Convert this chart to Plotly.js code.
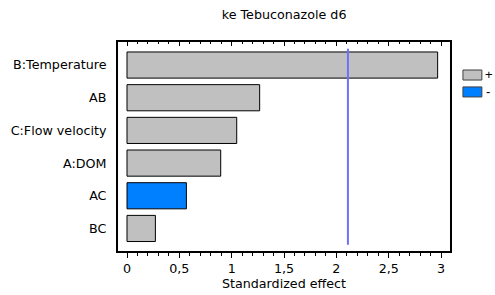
<!DOCTYPE html>
<html>
<head>
<meta charset="utf-8">
<script src="https://cdn.plot.ly/plotly-3.0.1.min.js"></script>
<style>html,body{margin:0;padding:0;background:#fff;}#chart{width:495px;height:295px;}</style>
</head>
<body>
<div id="chart"></div>
<script>
// Data (bottom to top)
const factors = ["BC", "AC", "A:DOM", "C:Flow velocity", "AB", "B:Temperature"];
const effects = [0.271, 0.567, 0.895, 1.048, 1.267, 2.967];
const signs   = ["+", "-", "+", "+", "+", "+"];
const critical = 2.11;
const xTickVals = [0, 0.5, 1, 1.5, 2, 2.5, 3];
const legendLabels = ["+", "-"];

const colPos = "#C0C0C0", colNeg = "#0080FF";

const posVals = effects.map((v, i) => signs[i] === "+" ? v : null);
const negVals = effects.map((v, i) => signs[i] === "-" ? v : null);

const barStyle = c => ({color: c, line: {color: "#000", width: 1}});
const traces = [
  {type: "bar", orientation: "h", y: factors, x: posVals, marker: barStyle(colPos), width: 0.8, name: "+", showlegend: false, hoverinfo: "none"},
  {type: "bar", orientation: "h", y: factors, x: negVals, marker: barStyle(colNeg), width: 0.8, name: "-", showlegend: false, hoverinfo: "none"},
  {type: "scatter", x: [null], y: [null], xaxis: "x2", showlegend: false, hoverinfo: "none"}
];

const fnt = {family: "DejaVu Sans", size: 12.7, color: "#000"};
const legFnt = {family: "Liberation Sans, Arial, sans-serif", size: 13, color: "#000"};
const xr = [-0.086, 3.085];

const layout = {
  width: 495, height: 295,
  margin: {l: 118, r: 45, t: 42, b: 44},
  paper_bgcolor: "#fff", plot_bgcolor: "#fff",
  separators: ",.",
  barmode: "overlay",
  font: fnt,
  showlegend: false,
  title: {text: "ke Tebuconazole d6", font: fnt, x: 0.574, xanchor: "center", y: 0.952, yanchor: "middle"},
  xaxis: {
    range: xr, tickvals: xTickVals, ticks: "outside", ticklen: 5, tickwidth: 1, tickcolor: "#000",
    minor: {dtick: 0.1, tick0: 0, ticks: "outside", ticklen: 3, tickcolor: "#000", showgrid: false},
    showgrid: false, zeroline: false, showline: true, linecolor: "#000", linewidth: 2, mirror: true,
    tickfont: fnt,
    title: {text: "Standardized effect", font: fnt, standoff: 3}
  },
  xaxis2: {
    overlaying: "x", side: "top", range: xr, tickvals: xTickVals, ticks: "inside", ticklen: 4, tickcolor: "#000",
    minor: {dtick: 0.1, tick0: 0, ticks: "inside", ticklen: 2, tickcolor: "#000", showgrid: false},
    showticklabels: false, showgrid: false, zeroline: false, showline: false
  },
  yaxis: {
    type: "category", categoryorder: "array", categoryarray: factors,
    range: [-0.69, 5.705], ticks: "", ticklabelstandoff: 7,
    showgrid: false, zeroline: false, showline: true, linecolor: "#000", linewidth: 2, mirror: true,
    tickfont: fnt
  },
  shapes: [
    {type: "line", xref: "x", yref: "y", x0: critical, x1: critical, y0: -0.5, y1: 5.5, line: {color: "#7070FF", width: 2}},
    {type: "rect", xref: "paper", yref: "paper", x0: 1.039, x1: 1.096, y0: 0.866, y1: 0.818, fillcolor: colPos, line: {color: "#404040", width: 1}},
    {type: "rect", xref: "paper", yref: "paper", x0: 1.039, x1: 1.096, y0: 0.785, y1: 0.737, fillcolor: colNeg, line: {color: "#404040", width: 1}}
  ],
  annotations: [
    {xref: "paper", yref: "paper", x: 1.1, y: 0.845, text: legendLabels[0], showarrow: false, xanchor: "left", yanchor: "middle", font: legFnt},
    {xref: "paper", yref: "paper", x: 1.103, y: 0.764, text: legendLabels[1], showarrow: false, xanchor: "left", yanchor: "middle", font: legFnt}
  ]
};

Plotly.newPlot("chart", traces, layout, {displayModeBar: false, staticPlot: true});
</script>
</body>
</html>
